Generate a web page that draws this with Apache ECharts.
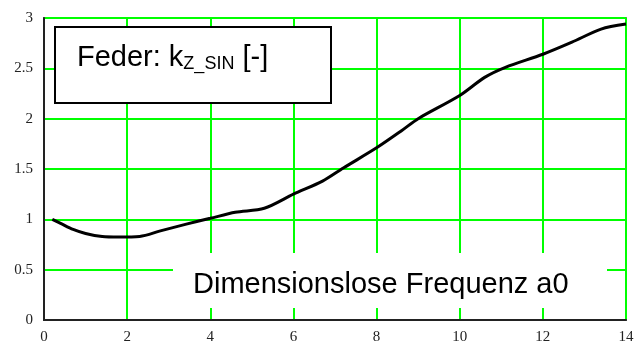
<!DOCTYPE html>
<html>
<head>
<meta charset="utf-8">
<script src="https://cdn.jsdelivr.net/npm/echarts@6/dist/echarts.min.js"></script>
<style>
  html, body { margin: 0; padding: 0; background: #fff; }
  #chart { width: 637px; height: 345px; }
</style>
</head>
<body>
<div id="chart"></div>
<script>
// dimensionless frequency a0
var freq = [0.2, 0.4, 0.7, 1.0, 1.4, 1.8, 2.3, 2.8, 3.4, 4.0, 4.6, 5.3, 6.0, 6.7, 7.2, 8.0, 8.6, 9.0, 10.0, 10.6, 11.1, 12.0, 12.7, 13.4, 14.0];
// spring coefficient k_Z_SIN
var kz = [1.0, 0.96, 0.9, 0.86, 0.83, 0.825, 0.83, 0.885, 0.95, 1.01, 1.07, 1.11, 1.25, 1.38, 1.51, 1.71, 1.88, 2.0, 2.23, 2.41, 2.51, 2.64, 2.76, 2.89, 2.94];
var xTicks = [0, 2, 4, 6, 8, 10, 12, 14];
var yTicks = [0, 0.5, 1, 1.5, 2, 2.5, 3];

var chart = echarts.init(document.getElementById('chart'));

var points = freq.map(function (x, i) { return [x, kz[i]]; });
var labelFont = { fontFamily: 'Liberation Serif', fontSize: 15, color: '#222' };

chart.setOption({
    animation: false,
    grid: {
        left: 44, right: 11, top: 18, bottom: 24,
        show: true, borderColor: '#777', borderWidth: 2
    },
    xAxis: {
        type: 'value',
        min: xTicks[0], max: xTicks[xTicks.length - 1], interval: 2,
        axisLine: { lineStyle: { color: '#222', width: 2 } },
        axisTick: { show: false },
        axisLabel: Object.assign({ margin: 10 }, labelFont),
        splitLine: { lineStyle: { color: '#00ff00', width: 2 } }
    },
    yAxis: {
        type: 'value',
        min: yTicks[0], max: yTicks[yTicks.length - 1], interval: 0.5,
        axisLine: { show: true, lineStyle: { color: '#222', width: 2 } },
        axisTick: { show: false },
        axisLabel: Object.assign({ margin: 11 }, labelFont),
        splitLine: { lineStyle: { color: '#00ff00', width: 2 } }
    },
    series: [{
        type: 'line',
        data: points,
        smooth: 0.3,
        symbol: 'none',
        lineStyle: { color: '#000', width: 3 },
        z: 3
    }],
    graphic: [
        {
            type: 'rect', z: 10,
            shape: { x: 55, y: 27, width: 276, height: 76 },
            style: { fill: '#fff', stroke: '#000', lineWidth: 2 }
        },
        {
            type: 'text', z: 11, left: 77, top: 43,
            style: {
                text: '{m|Feder: k}{s|Z_SIN}{m| [-]}',
                rich: {
                    m: { fontFamily: 'Liberation Sans', fontSize: 29, fill: '#000' },
                    s: { fontFamily: 'Liberation Sans', fontSize: 18, fill: '#000', padding: [14, 0, 0, 0] }
                }
            }
        },
        {
            type: 'rect', z: 10,
            shape: { x: 173, y: 253, width: 434, height: 55 },
            style: { fill: '#fff' }
        },
        {
            type: 'text', z: 11, left: 193, top: 270,
            style: {
                text: 'Dimensionslose Frequenz a0',
                fontFamily: 'Liberation Sans', fontSize: 29, fill: '#000'
            }
        }
    ]
});
</script>
</body>
</html>
